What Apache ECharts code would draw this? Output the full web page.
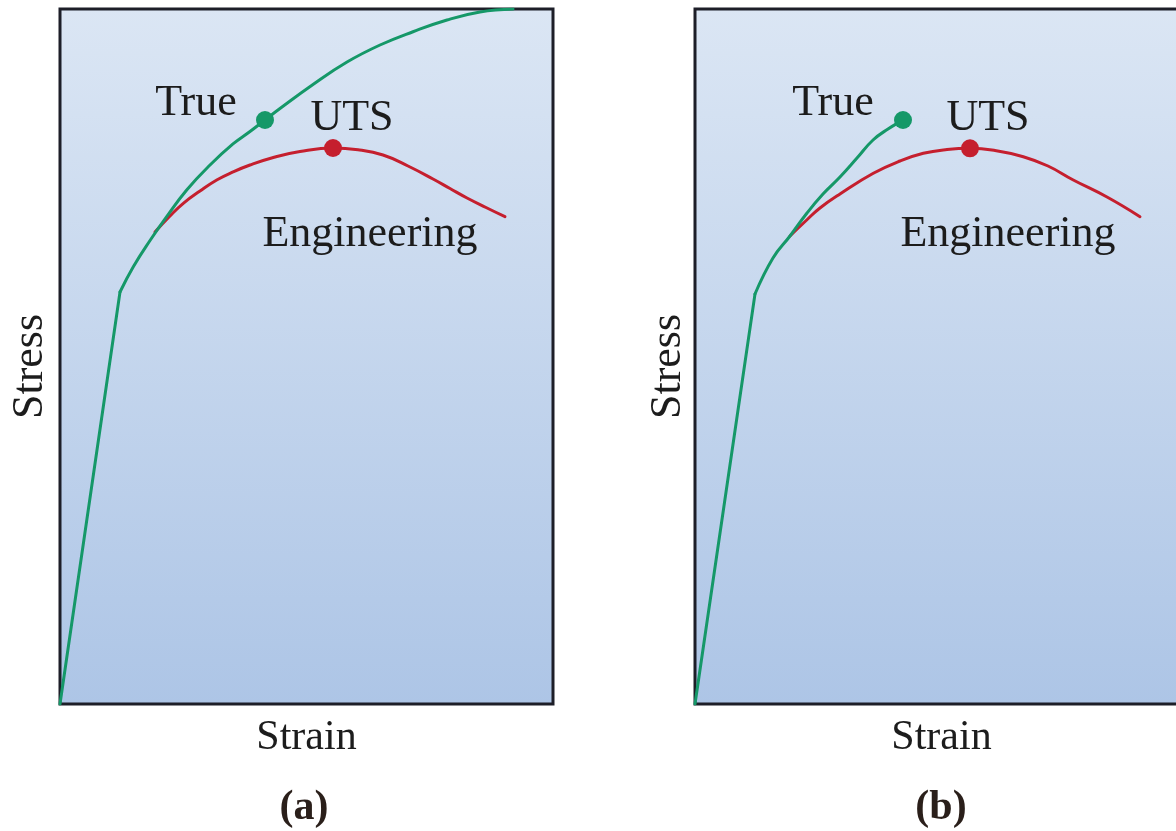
<!DOCTYPE html>
<html><head><meta charset="utf-8">
<script src="https://cdn.jsdelivr.net/npm/echarts@6/dist/echarts.min.js"></script>
<style>html,body{margin:0;padding:0;background:#fff}#c{width:1176px;height:831px}</style>
</head><body><div id="c"></div>
<script>
// Panel (a): strain / stress in arbitrary units (0-100)
const elasticA = [[0,0],[12.17,59.28]];
const trueA = [[12.17,59.28],[14.87,62.92],[18.26,66.69],[21.64,70.12],[25.70,73.96],[30.43,77.55],[35.09,80.58],[38.54,82.37],[41.58,84.03],[44.62,85.68],[51.32,89.14],[58.22,92.37],[64.91,94.82],[71.60,96.73],[78.50,98.42],[85.19,99.57],[91.89,100]];
const engA = [[19.27,67.91],[22.31,70.22],[25.01,72.04],[28.40,73.81],[31.79,75.40],[35.09,76.55],[38.54,77.55],[43.61,78.71],[48.68,79.50],[55.38,80.0],[60.45,79.74],[65.52,78.99],[70.59,77.41],[75.66,75.54],[79.11,74.17],[82.56,72.81],[86.41,71.44],[90.26,70.12]];
const trueDotA = [41.58,84.03];
const utsA = [55.38,80.0];
// Panel (b)
const elasticB = [[0,0],[12.17,58.99]];
const trueB = [[12.17,58.99],[15.82,64.17],[19.27,67.34],[22.72,70.65],[25.96,73.38],[29.41,75.83],[32.86,78.56],[36.11,81.15],[39.15,82.73],[42.19,84.03]];
const engB = [[19.27,67.34],[22.66,69.64],[25.35,71.37],[29.41,73.38],[36.17,76.36],[41.58,78.13],[46.31,79.24],[51.12,79.78],[55.78,79.96],[60.85,79.64],[66.59,78.75],[71.60,77.41],[76.73,75.40],[83.57,72.95],[90.26,70.12]];
const trueDotB = [42.19,84.03];
const utsB = [55.78,79.96];
// annotation labels
const labelsA = [["True",27.59,86.47],["UTS",59.23,84.32],["Engineering",62.88,67.63]];
const labelsB = [["True",27.99,86.47],["UTS",59.43,84.32],["Engineering",63.49,67.63]];
const panelTags = ["(a)","(b)"];
const xName = "Strain", yName = "Stress";

const GREEN = '#159868', RED = '#c51f2e';
const bg = {type:'linear',x:0,y:0,x2:0,y2:1,colorStops:[{offset:0,color:'#dbe6f4'},{offset:1,color:'#adc5e6'}]};
const serif = 'Liberation Serif';
const INK = '#1c1c1c';

const chart = echarts.init(document.getElementById('c'));
function grid(left){return {left:left,top:9,width:493,height:695,show:true,backgroundColor:bg,borderColor:'#1d1e28',borderWidth:3,
  containLabel:false,outerBoundsMode:'none',z:0};}
function xAx(i){return {gridIndex:i,type:'value',min:0,max:100,name:xName,nameLocation:'middle',nameGap:13,
  nameTextStyle:{fontFamily:serif,fontSize:42,color:INK},axisLine:{show:false},axisTick:{show:false},axisLabel:{show:false},splitLine:{show:false}};}
function yAx(i,gap){return {gridIndex:i,type:'value',min:0,max:100,name:yName,nameLocation:'middle',nameGap:gap,nameRotate:90,
  nameTextStyle:{fontFamily:serif,fontSize:44,color:INK,padding:[0,20,0,0]},axisLine:{show:false},axisTick:{show:false},axisLabel:{show:false},splitLine:{show:false}};}
function line(data,color,i,z,sm){return {type:'line',xAxisIndex:i,yAxisIndex:i,data:data,smooth:sm,showSymbol:false,symbol:'none',
  lineStyle:{color:color,width:3,join:'round',cap:'round'},z:z,animation:false,clip:true};}
function dot(p,color,i){return {type:'scatter',xAxisIndex:i,yAxisIndex:i,data:[p],symbolSize:18,itemStyle:{color:color,opacity:1},z:5,animation:false};}
function labels(arr,i){return {type:'scatter',xAxisIndex:i,yAxisIndex:i,symbolSize:0,z:6,animation:false,itemStyle:{opacity:1},
  data:arr.map(a=>({value:[a[1],a[2]],name:a[0]})),
  label:{show:true,position:'inside',formatter:p=>p.name,fontFamily:serif,fontSize:44,color:INK}};}

chart.setOption({
  animation:false,
  grid:[grid(60),grid(695)],
  xAxis:[xAx(0),xAx(1)],
  yAxis:[yAx(0,8),yAx(1,5)],
  series:[
    line(engA,RED,0,2,0.45), line(elasticA,GREEN,0,3,false), line(trueA,GREEN,0,3,0.45), dot(utsA,RED,0), dot(trueDotA,GREEN,0), labels(labelsA,0),
    line(engB,RED,1,2,0.45), line(elasticB,GREEN,1,3,false), line(trueB,GREEN,1,3,0.45), dot(utsB,RED,1), dot(trueDotB,GREEN,1), labels(labelsB,1)
  ],
  graphic:[
    {type:'text',x:304,y:808,style:{text:panelTags[0],fontFamily:serif,fontSize:42,fontWeight:'bold',fill:'#2a1f1a',textAlign:'center',textVerticalAlign:'middle'}},
    {type:'text',x:941,y:808,style:{text:panelTags[1],fontFamily:serif,fontSize:42,fontWeight:'bold',fill:'#2a1f1a',textAlign:'center',textVerticalAlign:'middle'}}
  ]
});
</script></body></html>
